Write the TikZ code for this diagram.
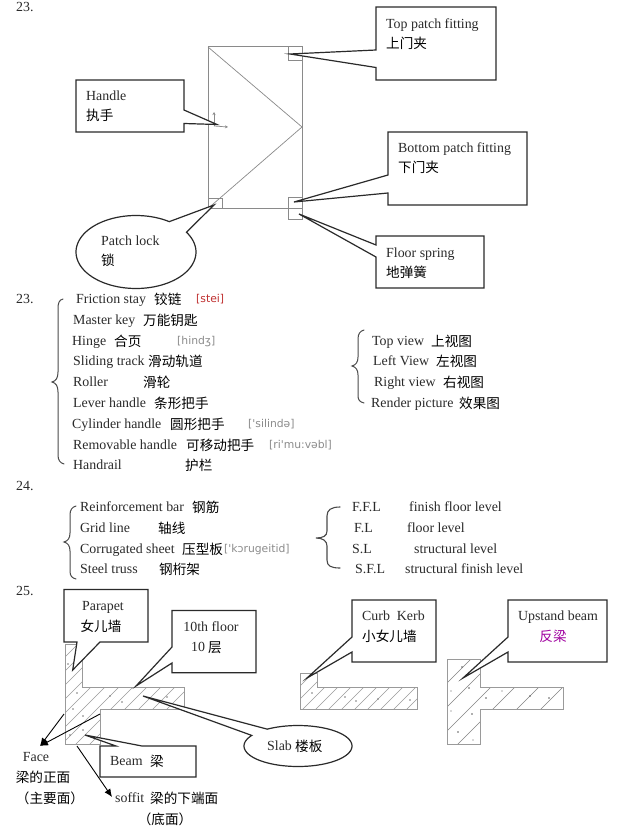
\documentclass[tikz,border=0pt]{standalone}
\usepackage{fontspec}
\setmainfont{Liberation Serif}
\newfontfamily\cjk{Noto Sans CJK SC}
\newfontfamily\ipa{DejaVu Sans}
\usetikzlibrary{arrows.meta}
\definecolor{ink}{HTML}{2A2A2A}
\definecolor{doorline}{HTML}{8A8A8A}
\definecolor{hatchline}{HTML}{9A9A9A}
\definecolor{phon}{HTML}{8C8C8C}
\definecolor{phonred}{HTML}{C03030}
\definecolor{fanliang}{HTML}{A000A0}
\tikzset{
  en/.style={inner sep=0pt,anchor=west,text height=10pt,text depth=2pt,text=ink,font=\fontsize{13.9}{15}\selectfont},
  zh/.style={inner sep=0pt,anchor=west,text height=12pt,text depth=2pt,text=black,font=\fontsize{13.6}{15}\cjk},
  pn/.style={inner sep=0pt,anchor=west,text height=8pt,text depth=3pt,text=phon,font=\fontsize{10.8}{12}\ipa},
  callout/.style={draw=ink,fill=white,line width=1.2pt,line join=miter},
  door/.style={draw=doorline,line width=.7pt},
  bracestroke/.style={draw=ink!85,line width=1pt,line cap=round},
  section/.style={draw=hatchline,line width=.7pt},
  hatchstroke/.style={draw=hatchline,line width=.6pt},
  arrowstroke/.style={draw=black,line width=.9pt,-{Latex[length=8pt,width=7pt,fill=black]}},
}
\begin{document}
\begin{tikzpicture}[x=1pt,y=-1pt]
\useasboundingbox (0,0) rectangle (623,835);
\fill[white] (0,0) rectangle (623,835);

% ---------- door ----------
\draw[door] (208,46.5) rectangle (302,208.5);
\draw[door] (208,47) -- (302,127) -- (208.5,208);
\draw[door] (288.5,46.5) rectangle (302,60);
\draw[door] (208,198) rectangle (222,208.5);
\draw[door] (288.5,197) rectangle (302,219.5);
\coordinate (axis) at (214,126);
\coordinate (axisu) at (214,112);
\coordinate (axisr) at (228,127);
\draw[door,-{Stealth[length=3pt,width=3pt]}] (axis) -- (axisu);
\draw[door,-{Stealth[length=3pt,width=3pt]}] (axis) -- (axisr);

% ---------- callouts, door ----------
\draw[callout] (376,7) -- (496,7) -- (496,80) -- (376,80) -- (376,67.5) -- (290,54) -- (376,50) -- cycle;
\draw[callout] (76,80) -- (184,80) -- (184,110) -- (217,124.5) -- (184,123.5) -- (184,132) -- (76,132) -- cycle;
\draw[callout] (388,132) -- (527,132) -- (527,205) -- (388,205) -- (388,193) -- (294,202) -- (388,175) -- cycle;
\draw[callout] (376,236) -- (484,236) -- (484,288) -- (376,288) -- (376,257) -- (299,214) -- (376,245) -- cycle;
\draw[callout] (214,205) -- plot[domain=56.3:392.8,samples=90] ({136+60*cos(\x)},{252-36.5*sin(\x)}) -- cycle;

\node[en] (t0) at (16,8) {23.};
\node[en] (t1) at (386,24) {Top patch fitting};
\node[zh] (t2) at (386,43) {上门夹};
\node[en] (t3) at (86,96) {Handle};
\node[zh] (t4) at (86,115) {执手};
\node[en] (t5) at (398,148) {Bottom patch fitting};
\node[zh] (t6) at (398,167) {下门夹};
\node[en] (t7) at (101,241) {Patch lock};
\node[zh] (t8) at (101,260) {锁};
\node[en] (t9) at (386,253) {Floor spring};
\node[zh] (t10) at (386,272) {地弹簧};

% ---------- list 23 ----------
\node[en] (a0) at (16,299) {23.};
\draw[bracestroke] (63,299) .. controls (59,300) and (58,303) .. (58,309) -- (58,372) .. controls (58,378) and (56,381) .. (52,382) .. controls (56,383) and (58,386) .. (58,392) -- (58,455) .. controls (58,460) and (60,463) .. (64,464);
\node[en] (a1) at (76,299) {Friction stay};
\node[zh] (a1z) at (154,299) {铰链};
\node[pn,text=phonred] (a1p) at (196,300) {[stei]};
\node[en] (a2) at (73,320) {Master key};
\node[zh] (a2z) at (143,320) {万能钥匙};
\node[en] (a3) at (72,341) {Hinge};
\node[zh] (a3z) at (114,341) {合页};
\node[pn] (a3p) at (177,342) {[hindʒ]};
\node[en] (a4) at (73,361) {Sliding track};
\node[zh] (a4z) at (148,361) {滑动轨道};
\node[en] (a5) at (73,382) {Roller};
\node[zh] (a5z) at (143,382) {滑轮};
\node[en] (a6) at (73,403) {Lever handle};
\node[zh] (a6z) at (154,403) {条形把手};
\node[en] (a7) at (72,424) {Cylinder handle};
\node[zh] (a7z) at (170,424) {圆形把手};
\node[pn] (a7p) at (248,425) {['silində]};
\node[en] (a8) at (73,445) {Removable handle};
\node[zh] (a8z) at (186,445) {可移动把手};
\node[pn] (a8p) at (269,446) {[ri'mu:vəbl]};
\node[en] (a9) at (73,465) {Handrail};
\node[zh] (a9z) at (185,465) {护栏};

% ---------- views ----------
\draw[bracestroke] (364,330) .. controls (360,331) and (358,334) .. (358,339) -- (358,357) .. controls (358,362) and (356,365) .. (352,366) .. controls (356,367) and (358,370) .. (358,375) -- (358,396) .. controls (358,400) and (360,402) .. (364,403);
\node[en] (b1) at (372,341) {Top view};
\node[zh] (b1z) at (431,341) {上视图};
\node[en] (b2) at (373,361) {Left View};
\node[zh] (b2z) at (436,361) {左视图};
\node[en] (b3) at (374,382) {Right view};
\node[zh] (b3z) at (443,382) {右视图};
\node[en] (b4) at (371,403) {Render picture};
\node[zh] (b4z) at (459,403) {效果图};

% ---------- list 24 ----------
\node[en] (c0) at (16,486) {24.};
\draw[bracestroke] (76,506) .. controls (72,507) and (70,510) .. (70,515) -- (70,533) .. controls (70,538) and (68,541) .. (64,542) .. controls (68,543) and (70,546) .. (70,551) -- (70,571) .. controls (70,576) and (72,578) .. (76,579);
\node[en] (c1) at (80,507) {Reinforcement bar};
\node[zh] (c1z) at (192,507) {钢筋};
\node[en] (c2) at (80,528) {Grid line};
\node[zh] (c2z) at (158,528) {轴线};
\node[en] (c3) at (80,549) {Corrugated sheet};
\node[zh] (c3z) at (182,549) {压型板};
\node[pn] (c3p) at (224,550) {['kɔrugeitid]};
\node[en] (c4) at (80,569) {Steel truss};
\node[zh] (c4z) at (159,569) {钢桁架};

\draw[bracestroke,line width=1.1pt] (340,507) .. controls (331,507) and (327,510) .. (327,516) -- (327,531) .. controls (327,536) and (323,538) .. (316,538) .. controls (323,538) and (327,541) .. (327,546) -- (327,560) .. controls (327,566) and (331,568) .. (340,568);
\node[en] (d1) at (352,507) {F.F.L};
\node[en] (d1t) at (409,507) {finish floor level};
\node[en] (d2) at (354,528) {F.L};
\node[en] (d2t) at (407,528) {floor level};
\node[en] (d3) at (352,549) {S.L};
\node[en] (d3t) at (414,549) {structural level};
\node[en] (d4) at (355,569) {S.F.L};
\node[en] (d4t) at (405,569) {structural finish level};

% ---------- 25 sections ----------
\node[en] (e0) at (16,591) {25.};

\begin{scope}
\clip (65,644) -- (82.5,644) -- (82.5,687) -- (184,687) -- (184,709) -- (100,709) -- (100,744) -- (65,744) -- cycle;
\foreach \i in {0,...,18} \draw[hatchstroke] ({-42+\i*14},750) -- ({-42+\i*14+110},640);
\fill[hatchline!80!black] (68,664) circle (.8) (77,693) circle (.8) (110,696) circle (.8) (122,702) circle (.8) (167,697) circle (.8) (73,709) circle (.8) (83,716) circle (.8) (83,730) circle (.8) (70,735) circle (.8);
\end{scope}
\draw[section] (65,644) -- (82.5,644) -- (82.5,687) -- (184,687) -- (184,709) -- (100,709) -- (100,744) -- (65,744) -- cycle;

\begin{scope}
\clip (300,673) -- (317,673) -- (317,687) -- (417,687) -- (417,709) -- (300,709) -- cycle;
\foreach \i in {0,...,14} \draw[hatchstroke] ({261+\i*13},712) -- ({261+\i*13+50},662);
\fill[hatchline!80!black] (312,693) circle (.8) (345,697) circle (.8) (356,701) circle (.8) (378,699) circle (.8) (410,700) circle (.8);
\end{scope}
\draw[section] (300,673) -- (317,673) -- (317,687) -- (417,687) -- (417,709) -- (300,709) -- cycle;

\begin{scope}
\clip (447,659) -- (480,659) -- (480,687) -- (563,687) -- (563,709) -- (480,709) -- (480,744) -- (447,744) -- cycle;
\foreach \i in {0,...,10} \draw[hatchstroke,draw=hatchline!85!black] ({356+\i*24},750) -- ({356+\i*24+105},645);
\fill[ink!75] (462,667) circle (.8) (469,688) circle (.9) (451,691) circle (.7) (486,698) circle (.9) (451,711) circle (.7) (472,714) circle (.9) (458,732) circle (.9) (473,740) circle (.7) (530,696) circle (.9) (549,698) circle (.8) (502,691) circle (.7);
\end{scope}
\draw[section] (447,659) -- (480,659) -- (480,687) -- (563,687) -- (563,709) -- (480,709) -- (480,744) -- (447,744) -- cycle;

% ---------- callouts, sections ----------
\draw[callout] (64,589.5) -- (148,589.5) -- (148,642) -- (100,642) -- (72.7,670) -- (77,642) -- (64,642) -- cycle;
\draw[callout] (172,610.5) -- (256,610.5) -- (256,672.7) -- (172,672.7) -- (172,663) -- (136,686) -- (172,647) -- cycle;
\draw[callout] (100,746) -- (116,746) -- (85,735) -- (142,746) -- (196,746) -- (196,777) -- (100,777) -- cycle;
\draw[callout] (143,696) -- plot[domain=148.9:484.7,samples=90] ({298+54*cos(\x)},{746-20.5*sin(\x)}) -- cycle;
\draw[callout] (352,600) -- (436,600) -- (436,662) -- (352,662) -- (352,652) -- (307,678) -- (352,637) -- cycle;
\draw[callout] (508,600) -- (607,600) -- (607,662) -- (508,662) -- (508,652) -- (463,678) -- (508,637) -- cycle;

\node[en,anchor=center] (f1) at (103,606) {Parapet};
\node[zh,anchor=center] (f2) at (101,626) {女儿墙};
\node[en,anchor=center] (f3) at (211,627) {10th floor};
\node[en] (f4) at (191,647) {10};
\node[zh] (f4z) at (208,647) {层};
\node[en] (f5) at (110,761) {Beam};
\node[zh] (f5z) at (150,761) {梁};
\node[en] (f6) at (267,746) {Slab};
\node[zh] (f6z) at (295,746) {楼板};
\node[en] (f7) at (362,616) {Curb\ \ Kerb};
\node[zh] (f8) at (362,636) {小女儿墙};
\node[en,anchor=center] (f9) at (558,616) {Upstand beam};
\node[zh,anchor=center,text=fanliang] (f10) at (553,636) {反梁};

\node[en,anchor=center] (g1) at (36,757) {Face};
\node[zh,anchor=center] (g2) at (43,777) {梁的正面};
\node[zh,anchor=center] (g3) at (50,798) {（主要面）};
\node[en] (h1) at (115,798) {soffit};
\node[zh] (h2) at (150,798) {梁的下端面};
\node[zh,anchor=center] (h3) at (165,819) {（底面）};

\coordinate (facetip) at (40,746);
\coordinate (faceA) at (64,714);
\coordinate (faceB) at (100,714);
\coordinate (soffA) at (77,746);
\coordinate (sofftip) at (112,797);
\draw[arrowstroke] (faceA) -- (facetip);
\draw[arrowstroke] (faceB) -- (facetip);
\draw[arrowstroke] (soffA) -- (sofftip);
\end{tikzpicture}
\end{document}
